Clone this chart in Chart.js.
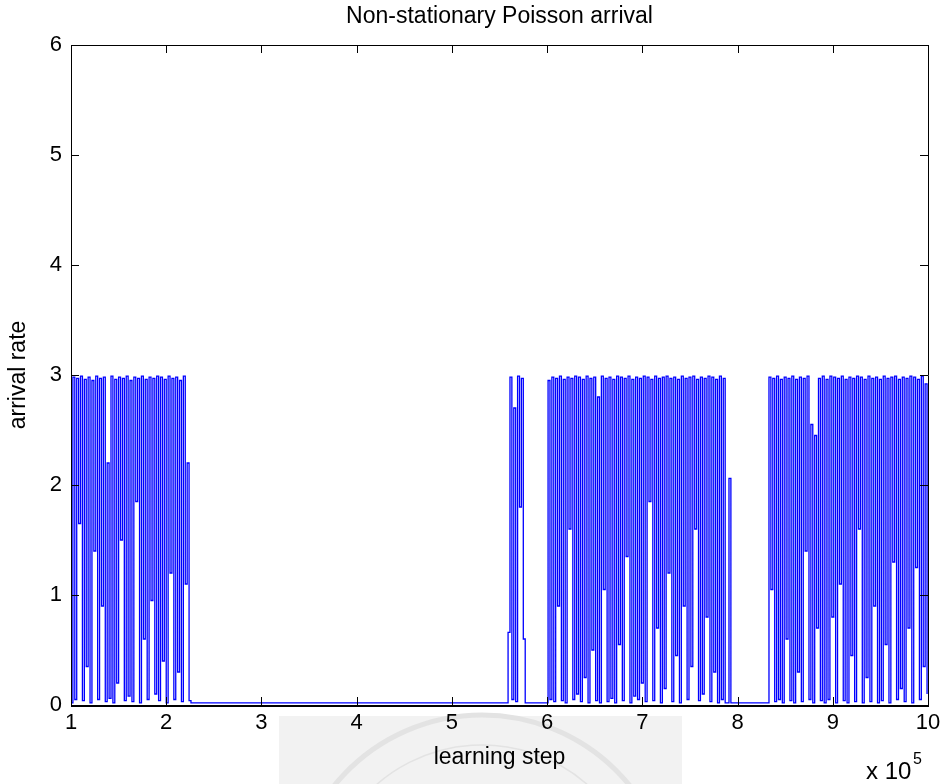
<!DOCTYPE html>
<html>
<head>
<meta charset="utf-8">
<title>Non-stationary Poisson arrival</title>
<script src="https://cdn.jsdelivr.net/npm/chart.js@4.4.1/dist/chart.umd.min.js"></script>
<style>
  html, body { margin: 0; padding: 0; background: #fff; }
  #wrap { position: relative; width: 946px; height: 784px; }
</style>
</head>
<body>
<div id="wrap"><canvas id="arrivalChart"></canvas></div>
<script>
// learning step is in units of 10^5, the rate is held for 2000 steps per sample
const sampleStep = 0.02;
const xTicks = [1, 2, 3, 4, 5, 6, 7, 8, 9, 10];
const yTicks = [0, 1, 2, 3, 4, 5, 6];
const chartTitle = 'Non-stationary Poisson arrival';

// bursts of arrivals: where each one starts, and the rate samples in it
const burstStarts = [1.00, 5.57, 5.99, 8.31];

const burst1 = [
  0.02, 2.98, 0.05, 2.97, 1.65, 2.99, 0.04, 2.96, 0.35, 2.98,
  0.02, 2.95, 1.40, 2.99, 0.05, 2.97, 0.90, 2.98, 0.03, 2.20,
  0.06, 2.99, 0.02, 2.96, 0.20, 2.98, 1.50, 2.97, 0.04, 2.99,
  0.08, 2.95, 0.03, 2.98, 1.85, 2.97, 0.02, 2.99, 0.60, 2.96,
  0.05, 2.98, 0.95, 2.97, 0.10, 2.99, 0.04, 2.98, 0.40, 2.96,
  0.02, 2.99, 1.20, 2.97, 0.05, 2.98, 0.30, 2.95, 0.03, 2.99,
  1.10, 2.20, 0.04, 0.02, 0.02
];

const burst2 = [
  0.02, 0.66, 2.98, 0.05, 2.70, 0.03, 2.99, 1.80, 2.97, 0.60, 0.02
];

const burst3 = [
  0.02, 2.95, 0.05, 2.98, 0.03, 2.97, 0.90, 2.99, 0.04, 2.96,
  0.02, 2.98, 1.60, 2.97, 0.05, 2.99, 0.10, 2.98, 0.03, 2.96,
  0.25, 2.99, 0.02, 2.97, 0.50, 2.98, 0.04, 2.80, 0.02, 2.99,
  1.05, 2.97, 0.03, 2.98, 0.06, 2.96, 0.02, 2.99, 0.55, 2.98,
  0.04, 2.97, 1.35, 2.99, 0.02, 2.96, 0.08, 2.98, 0.05, 2.97,
  0.20, 2.99, 0.03, 2.98, 1.85, 2.96, 0.04, 2.99, 0.70, 2.97,
  0.02, 2.98, 0.15, 2.99, 1.20, 2.97, 0.03, 2.98, 0.45, 2.96,
  0.02, 2.99, 0.90, 2.97, 0.05, 2.98, 0.35, 2.99, 1.60, 2.96,
  0.04, 2.98, 0.10, 2.97, 0.80, 2.99, 0.03, 2.98, 0.30, 2.96,
  0.02, 2.99, 0.05, 2.97, 0.02, 0.02, 2.06, 0.02
];

const burst4 = [
  0.02, 2.98, 1.05, 2.97, 0.03, 2.99, 0.05, 2.96, 0.02, 2.98,
  0.60, 2.97, 0.04, 2.99, 0.02, 2.96, 0.30, 2.98, 0.03, 2.97,
  1.40, 2.99, 0.05, 2.55, 0.02, 2.45, 0.70, 2.97, 0.04, 2.99,
  0.02, 2.96, 0.05, 2.99, 0.80, 2.98, 0.02, 2.97, 1.10, 2.99,
  0.04, 2.96, 0.02, 2.98, 0.45, 2.97, 0.03, 2.99, 1.60, 2.98,
  0.02, 2.96, 0.25, 2.99, 0.03, 2.97, 0.90, 2.98, 0.02, 2.96,
  0.04, 2.99, 0.55, 2.97, 0.02, 2.98, 1.30, 2.99, 0.05, 2.96,
  0.15, 2.98, 0.03, 2.97, 0.70, 2.99, 0.02, 2.98, 1.25, 2.96,
  0.05, 2.99, 0.35, 2.92, 0.10
];

const bursts = [burst1, burst2, burst3, burst4];

const points = [];
bursts.forEach(function(rates, b) {
  rates.forEach(function(r, i) {
    points.push({ x: burstStarts[b] + i * sampleStep, y: r });
  });
});

const FONT = '"Liberation Sans", Arial, Helvetica, sans-serif';

// MATLAB style frame: full box, ticks pointing in, title over the axes,
// "x 10^5" and the faded seal behind the x label
const matlabFrame = {
  id: 'matlabFrame',
  beforeDraw(chart) {
    const ctx = chart.ctx;
    ctx.save();
    ctx.fillStyle = '#f2f2f2';
    ctx.fillRect(279, 716, 403, 68);
    ctx.strokeStyle = '#e3e3e3';
    ctx.lineWidth = 5;
    ctx.beginPath();
    ctx.arc(482, 905, 190, Math.PI * 1.12, Math.PI * 1.88);
    ctx.stroke();
    ctx.lineWidth = 1.5;
    ctx.beginPath();
    ctx.arc(482, 905, 160, Math.PI * 1.1, Math.PI * 1.9);
    ctx.stroke();
    ctx.restore();
  },
  afterDraw(chart) {
    const ctx = chart.ctx;
    const a = chart.chartArea;
    const xs = chart.scales.x, ys = chart.scales.y;
    const tl = 8;
    ctx.save();
    ctx.strokeStyle = '#000';
    ctx.lineWidth = 1;
    ctx.beginPath();
    ctx.rect(Math.round(a.left) + 0.5, Math.round(a.top) + 0.5,
             Math.round(a.right - a.left), Math.round(a.bottom - a.top));
    xTicks.forEach(function(v) {
      const px = Math.round(xs.getPixelForValue(v)) + 0.5;
      ctx.moveTo(px, a.bottom); ctx.lineTo(px, a.bottom - tl);
      ctx.moveTo(px, a.top); ctx.lineTo(px, a.top + tl);
    });
    yTicks.forEach(function(v) {
      const py = Math.round(ys.getPixelForValue(v)) + 0.5;
      ctx.moveTo(a.left, py); ctx.lineTo(a.left + tl, py);
      ctx.moveTo(a.right, py); ctx.lineTo(a.right - tl, py);
    });
    ctx.stroke();
    ctx.lineWidth = 2;
    ctx.beginPath();
    ctx.moveTo(a.left, Math.round(a.bottom) + 1);
    ctx.lineTo(a.right + 1, Math.round(a.bottom) + 1);
    ctx.stroke();

    ctx.fillStyle = '#000';
    ctx.textBaseline = 'alphabetic';
    ctx.textAlign = 'center';
    ctx.font = '23px ' + FONT;
    ctx.fillText(chartTitle, (a.left + a.right) / 2, 23);

    ctx.textAlign = 'left';
    ctx.font = '24px ' + FONT;
    ctx.fillText('x 10', 866, 779);
    ctx.font = '16px ' + FONT;
    ctx.fillText('5', 913, 764);
    ctx.restore();
  }
};

new Chart(document.getElementById('arrivalChart'), {
  type: 'line',
  data: {
    datasets: [{
      label: 'arrival rate',
      data: points,
      borderColor: '#0000ff',
      borderWidth: 1.3,
      pointRadius: 0,
      fill: false,
      stepped: true
    }]
  },
  options: {
    responsive: true,
    maintainAspectRatio: false,
    animation: false,
    events: [],
    layout: { padding: { left: 0, right: 18, top: 45, bottom: 0 } },
    plugins: {
      legend: { display: false },
      tooltip: { enabled: false },
      title: { display: false }
    },
    scales: {
      x: {
        type: 'linear',
        min: 1,
        max: 10,
        grid: { display: false, drawTicks: false },
        border: { display: false },
        ticks: {
          stepSize: 1,
          color: '#000',
          padding: 5,
          maxRotation: 0,
          font: { family: FONT, size: 22 }
        },
        title: {
          display: true,
          text: 'learning step',
          color: '#000',
          font: { family: FONT, size: 23 },
          padding: { top: 0, bottom: 13 }
        },
        afterFit(scale) { scale.height = 79; }
      },
      y: {
        min: 0,
        max: 6,
        grid: { display: false, drawTicks: false },
        border: { display: false },
        ticks: {
          stepSize: 1,
          color: '#000',
          padding: 9,
          font: { family: FONT, size: 22 }
        },
        title: {
          display: true,
          text: 'arrival rate',
          color: '#000',
          font: { family: FONT, size: 23 },
          padding: { top: 5, bottom: 0 }
        },
        afterFit(scale) { scale.width = 71; }
      }
    }
  },
  plugins: [matlabFrame]
});
</script>
</body>
</html>
